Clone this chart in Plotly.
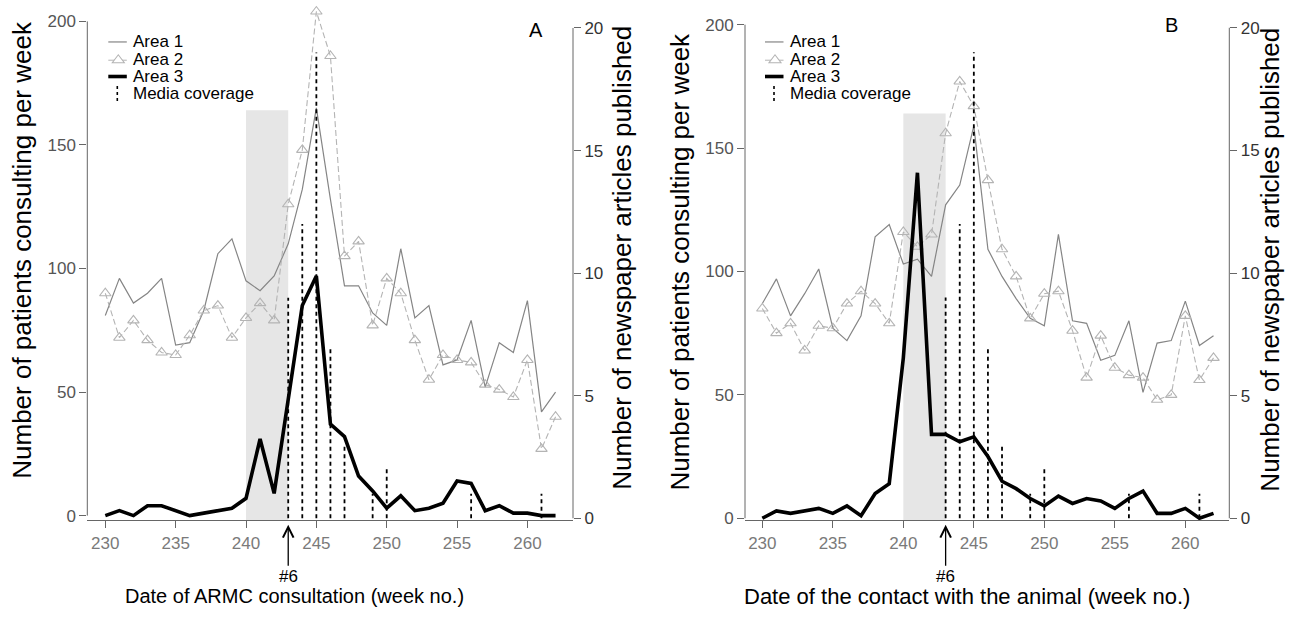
import plotly.graph_objects as go

# ---------------- data ----------------
weeks = list(range(230, 263))

a_area1 = [81, 96, 86, 90, 96, 69, 70, 83, 106, 112, 95, 91, 97, 110, 132, 165, 128,
           93, 93, 82, 77, 108, 80, 85, 61, 63, 79, 52, 70, 66, 87, 42, 50]
a_area2 = [90, 72, 79, 71, 66, 65, 73, 83, 85, 72, 80, 86, 79, 126, 148, 204, 186,
           105, 111, 77, 96, 90, 71, 55, 65, 63, 62, 53, 51, 48, 63, 27, 40]
a_area3 = [0, 2, 0, 4, 4, 2, 0, 1, 2, 3, 7, 31, 9, 48, 85, 97, 37,
           32, 16, 10, 3, 8, 2, 3, 5, 14, 13, 2, 4, 1, 1, 0, 0]

b_area1 = [87, 97, 82, 91, 101, 77, 72, 82, 114, 119, 103, 105, 98, 127, 135, 159, 109,
           98, 89, 81, 78, 115, 80, 79, 64, 66, 80, 51, 71, 72, 88, 70, 74]
b_area2 = [85, 75, 79, 68, 78, 77, 87, 92, 87, 79, 116, 110, 115, 156, 177, 167, 137,
           109, 98, 81, 91, 92, 76, 57, 74, 61, 58, 57, 48, 50, 82, 56, 65]
b_area3 = [0, 3, 2, 3, 4, 2, 5, 1, 10, 14, 65, 140, 34, 34, 31, 33, 25,
           15, 12, 8, 5, 9, 6, 8, 7, 4, 8, 11, 2, 2, 4, 0, 2]

media_weeks = [243, 244, 245, 246, 247, 249, 250, 256, 261]
media_counts = [9, 12, 19, 7, 3, 1, 2, 1, 1]

shade_start, shade_end, shade_top = 240, 243, 164
case6_week = 243

x_ticks = [230, 235, 240, 245, 250, 255, 260]
left_ticks = [0, 50, 100, 150, 200]
right_ticks = [0, 5, 10, 15, 20]

# ---------------- styling ----------------
W, H = 1302, 624
FONT = "Liberation Sans, Arial, Helvetica, sans-serif"
C1 = "#858585"
C2 = "#b4b4b4"
AXC = "#666666"


def px(x):
    return x / W


def py(y):
    return 1 - y / H


ydom = [py(527), py(4)]

fig = go.Figure()


def add_panel(xa, ya, ya2, a1, a2, a3):
    fig.add_trace(go.Scatter(x=weeks, y=a1, mode="lines", line=dict(color=C1, width=1.2),
                             xaxis=xa, yaxis=ya, showlegend=False))
    fig.add_trace(go.Scatter(x=weeks, y=a2, mode="lines+markers",
                             line=dict(color=C2, width=1.1, dash="6px,3px"),
                             marker=dict(symbol="triangle-up-open", size=10, color=C2,
                                         line=dict(width=1.1, color=C2)),
                             xaxis=xa, yaxis=ya, showlegend=False))
    fig.add_trace(go.Scatter(x=weeks, y=a3, mode="lines", line=dict(color="black", width=3.6),
                             xaxis=xa, yaxis=ya, showlegend=False))
    mx, my = [], []
    for w, c in zip(media_weeks, media_counts):
        mx += [w, w, None]
        my += [0, c, None]
    fig.add_trace(go.Scatter(x=mx, y=my, mode="lines",
                             line=dict(color="black", width=1.8, dash="4px,3.5px"),
                             xaxis=xa, yaxis=ya2, showlegend=False))


add_panel("x", "y", "y2", a_area1, a_area2, a_area3)
add_panel("x2", "y3", "y4", b_area1, b_area2, b_area3)

tick_common = dict(ticks="outside", ticklen=7, tickcolor=AXC, tickwidth=1,
                   showgrid=False, zeroline=False)

fig.update_layout(
    autosize=True, margin=dict(l=0, r=0, t=0, b=0),
    paper_bgcolor="white", plot_bgcolor="white",
    font=dict(family=FONT, color="black"),
    xaxis=dict(domain=[px(87.3), px(573)], range=[228.72, 263.24], tickvals=x_ticks,
               showline=True, linecolor=AXC, linewidth=1, anchor="y",
               tickfont=dict(size=17, color="#7a7a7a"), **tick_common),
    yaxis=dict(domain=ydom, range=[-1.88, 207.07], tickvals=left_ticks, anchor="x",
               tickfont=dict(size=17, color="#555555"), **tick_common),
    yaxis2=dict(overlaying="y", side="right", anchor="x", range=[-0.081, 20.98],
                tickvals=right_ticks, tickfont=dict(size=17, color="#333333"), **tick_common),
    xaxis2=dict(domain=[px(745), px(1229.3)], range=[228.77, 263.12], tickvals=x_ticks,
                showline=True, linecolor=AXC, linewidth=1, anchor="y3",
                tickfont=dict(size=17, color="#7a7a7a"), **tick_common),
    yaxis3=dict(domain=ydom, range=[-0.8, 208.4], tickvals=left_ticks, anchor="x2",
                tickfont=dict(size=17, color="#555555"), **tick_common),
    yaxis4=dict(overlaying="y3", side="right", anchor="x2", range=[-0.08, 20.97],
                tickvals=right_ticks, tickfont=dict(size=17, color="#333333"), **tick_common),
)

shapes = []
annotations = []

panels = [
    dict(xa="x", ya="y", ya2="y2", leg_x=108.3, txt_x=131.5,
         ylab_x=22, ylab_y=253, y2lab_x=622, y2lab_y=261,
         xlab="Date of ARMC consultation (week no.)", xlab_x=294, xlab_size=20,
         letter="A", letter_xy=(536, 30)),
    dict(xa="x2", ya="y3", ya2="y4", leg_x=765, txt_x=789,
         ylab_x=680, ylab_y=265, y2lab_x=1270, y2lab_y=263,
         xlab="Date of the contact with the animal (week no.)", xlab_x=967, xlab_size=22,
         letter="B", letter_xy=(1171, 25)),
]

for p in panels:
    xa, ya, ya2 = p["xa"], p["ya"], p["ya2"]
    # shaded period
    shapes.append(dict(type="rect", xref=xa, yref=ya, x0=shade_start, x1=shade_end,
                       y0=-2, y1=shade_top, fillcolor="#e6e6e6", line=dict(width=0),
                       layer="below"))
    # R-style axis lines spanning tick range
    shapes.append(dict(type="line", xref=f"{xa} domain", yref=ya, x0=0, x1=0,
                       y0=left_ticks[0], y1=left_ticks[-1], line=dict(color=AXC, width=1)))
    shapes.append(dict(type="line", xref=f"{xa} domain", yref=ya2, x0=1, x1=1,
                       y0=right_ticks[0], y1=right_ticks[-1], line=dict(color=AXC, width=1)))
    # legend
    lx, tx = p["leg_x"], p["txt_x"]
    rows = [42.5, 60, 77.5, 95]
    shapes.append(dict(type="line", xref="paper", yref="paper", x0=px(lx), x1=px(lx + 18.5),
                       y0=py(rows[0]), y1=py(rows[0]), line=dict(color=C1, width=1.2)))
    cx = lx + 10
    shapes.append(dict(type="line", xref="paper", yref="paper", x0=px(lx), x1=px(lx + 18.5),
                       y0=py(rows[1] + 1), y1=py(rows[1] + 1), line=dict(color=C2, width=1)))
    tri = (f"M {px(cx - 6)},{py(rows[1] + 3.5)} L {px(cx + 6)},{py(rows[1] + 3.5)} "
           f"L {px(cx)},{py(rows[1] - 4.5)} Z")
    shapes.append(dict(type="path", xref="paper", yref="paper", path=tri,
                       fillcolor="white", line=dict(color=C2, width=1.1)))
    shapes.append(dict(type="line", xref="paper", yref="paper", x0=px(lx), x1=px(lx + 18.5),
                       y0=py(rows[2]), y1=py(rows[2]), line=dict(color="black", width=3.6)))
    shapes.append(dict(type="line", xref="paper", yref="paper", x0=px(cx - 1), x1=px(cx - 1),
                       y0=py(rows[3] - 8), y1=py(rows[3] + 9),
                       line=dict(color="black", width=1.6, dash="3px,3px")))
    for r, t in zip(rows, ["Area 1", "Area 2", "Area 3", "Media coverage"]):
        annotations.append(dict(xref="paper", yref="paper", x=px(tx), y=py(r), text=t,
                                showarrow=False, xanchor="left", yanchor="middle",
                                borderpad=0,
                                font=dict(size=17, family=FONT, color="black")))
    # axis titles
    annotations.append(dict(xref="paper", yref="paper", x=px(p["ylab_x"]), y=py(p["ylab_y"]),
                            text="Number of patients consulting per week", textangle=-90,
                            showarrow=False, xanchor="center", yanchor="middle",
                            font=dict(size=26, family=FONT, color="black")))
    annotations.append(dict(xref="paper", yref="paper", x=px(p["y2lab_x"]), y=py(p["y2lab_y"]),
                            text="Number of newspaper articles published", textangle=-90,
                            showarrow=False, xanchor="center", yanchor="middle",
                            font=dict(size=26, family=FONT, color="black")))
    annotations.append(dict(xref="paper", yref="paper", x=px(p["xlab_x"]), y=py(604),
                            text=p["xlab"], showarrow=False, xanchor="center",
                            yanchor="middle",
                            font=dict(size=p["xlab_size"], family=FONT, color="black")))
    lxy = p["letter_xy"]
    annotations.append(dict(xref="paper", yref="paper", x=px(lxy[0]), y=py(lxy[1]),
                            text=p["letter"], showarrow=False, xanchor="center",
                            yanchor="middle", font=dict(size=20, family=FONT, color="black")))
    # case #6 arrow
    annotations.append(dict(xref=xa, yref="paper", x=case6_week, y=py(531.5), text="#6",
                            showarrow=True, arrowhead=5, arrowsize=1.6, arrowwidth=1.3,
                            arrowcolor="black", ax=0, ay=52, standoff=0,
                            font=dict(size=17, family=FONT, color="black")))

fig.update_layout(shapes=shapes, annotations=annotations)
fig.write_html("out.html", config={"displayModeBar": False, "responsive": True},
               default_width="100vw", default_height="100vh",
               post_script="document.body.style.margin='0';document.body.style.overflow='hidden';")
